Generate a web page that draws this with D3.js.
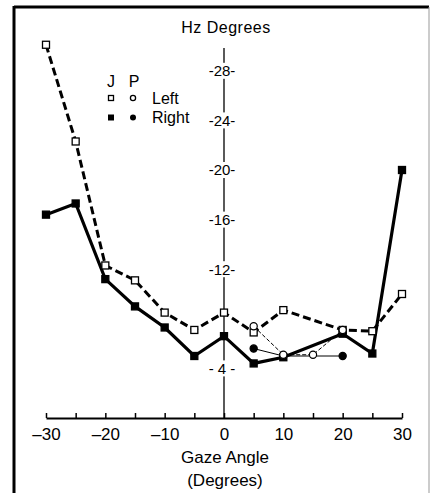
<!DOCTYPE html>
<html>
<head>
<meta charset="utf-8">
<script src="https://cdn.jsdelivr.net/npm/d3@7"></script>
<style>
  body { margin: 0; background: #fff; }
  text { font-family: "Liberation Sans", Arial, sans-serif; fill: #000; }
</style>
</head>
<body>
<script>
// データ
var jAngles = [-30, -25, -20, -15, -10, -5, 0, 5, 10, 20, 25, 30];
var jLeft   = [30.1, 22.3, 12.3, 11.1, 8.5, 7.1, 8.5, 6.9, 8.7, 7.1, 7.0, 10.0];
var jRight  = [16.4, 17.3, 11.2, 9.0, 7.3, 5.0, 6.6, 4.4, 4.9, 6.8, 5.2, 20.0];
var pLeftAngles  = [5, 10, 15, 20];
var pLeft        = [7.4, 5.1, 5.1, 7.1];
var pRightAngles = [5, 10, 20];
var pRight       = [5.6, 5.0, 5.0];
var xTicks  = [-30, -25, -20, -15, -10, -5, 0, 5, 10, 15, 20, 25, 30];
var yTicks  = [4, 12, 16, 20, 24, 28];

var width = 430, height = 493;

var svg = d3.select("body").append("svg")
    .attr("width", width)
    .attr("height", height);

// 枠線
svg.append("line").attr("x1", 14).attr("y1", 7).attr("x2", 429).attr("y2", 7)
    .attr("stroke", "#000").attr("stroke-width", 3);
svg.append("line").attr("x1", 14).attr("y1", 6).attr("x2", 14).attr("y2", 493)
    .attr("stroke", "#000").attr("stroke-width", 3);
svg.append("line").attr("x1", 429).attr("y1", 7).attr("x2", 429).attr("y2", 493)
    .attr("stroke", "#999").attr("stroke-width", 1);

// スケール
var xScale = d3.scaleLinear().domain([-30, 30]).range([46, 402]);
var yScale = d3.scaleLinear().domain([0, 28]).range([418, 70.8]);

// X axis
var xAxis = svg.append("g")
    .attr("transform", "translate(0," + yScale(0) + ")")
    .call(d3.axisBottom(xScale)
      .tickValues(xTicks)
      .tickSize(-5)
      .tickSizeOuter(0)
      .tickFormat(function(d) { return d % 10 === 0 ? (d < 0 ? "\u2013" + (-d) : String(d)) : ""; }));
xAxis.select(".domain").attr("stroke-width", 2);
xAxis.selectAll(".tick line").attr("stroke-width", 1.5);
xAxis.selectAll("text")
    .attr("y", 22).attr("dy", 0)
    .style("font-size", "17px")
    .style("font-family", "Liberation Sans, Arial, sans-serif");

// Y axis
svg.append("line")
    .attr("x1", xScale(0)).attr("x2", xScale(0))
    .attr("y1", 48).attr("y2", yScale(0))
    .attr("stroke", "#000").attr("stroke-width", 1.3);

var yLabel = svg.append("g").selectAll("g")
    .data(yTicks).enter().append("g")
    .attr("transform", function(d) { return "translate(" + (xScale(0) - 2) + "," + yScale(d) + ")"; });
yLabel.append("rect")
    .attr("x", -16).attr("y", -8).attr("width", 32).attr("height", 16)
    .attr("fill", "#fff");
yLabel.append("text")
    .attr("text-anchor", "middle")
    .attr("dy", "0.36em")
    .style("font-size", "15px")
    .text(function(d) { return d < 10 ? "- " + d + " -" : "-" + d + "-"; });

// タイトル
svg.append("text")
    .attr("x", 226).attr("y", 33)
    .attr("text-anchor", "middle")
    .style("font-size", "16px")
    .style("letter-spacing", "0.5px")
    .text("Hz Degrees");
svg.append("text")
    .attr("x", 225).attr("y", 463)
    .attr("text-anchor", "middle")
    .style("font-size", "17px")
    .text("Gaze Angle");
svg.append("text")
    .attr("x", 225).attr("y", 486)
    .attr("text-anchor", "middle")
    .style("font-size", "17px")
    .text("(Degrees)");

// Lineの定義
function series(xs, ys) {
  return xs.map(function(x, i) { return { x: x, v: ys[i] }; });
}
var valueline = d3.line()
    .x(function(d) { return xScale(d.x); })
    .y(function(d) { return yScale(d.v); });

var jL = series(jAngles, jLeft), jR = series(jAngles, jRight);
var pL = series(pLeftAngles, pLeft), pR = series(pRightAngles, pRight);

svg.append("path").attr("d", valueline(jL))
    .attr("fill", "none").attr("stroke", "#000").attr("stroke-width", 3)
    .attr("stroke-dasharray", "8,4");
svg.append("path").attr("d", valueline(jR))
    .attr("fill", "none").attr("stroke", "#000").attr("stroke-width", 3.2);
svg.append("path").attr("d", valueline(pL))
    .attr("fill", "none").attr("stroke", "#000").attr("stroke-width", 1)
    .attr("stroke-dasharray", "4,2");
svg.append("path").attr("d", valueline(pR))
    .attr("fill", "none").attr("stroke", "#000").attr("stroke-width", 1);

// マーカー
function squares(data, fill) {
  svg.append("g").selectAll("rect").data(data).enter().append("rect")
    .attr("x", function(d) { return xScale(d.x) - 3.5; })
    .attr("y", function(d) { return yScale(d.v) - 3.5; })
    .attr("width", 7).attr("height", 7)
    .attr("fill", fill).attr("stroke", "#000").attr("stroke-width", 1.3);
}
function circles(data, fill) {
  svg.append("g").selectAll("circle").data(data).enter().append("circle")
    .attr("cx", function(d) { return xScale(d.x); })
    .attr("cy", function(d) { return yScale(d.v); })
    .attr("r", 3.6)
    .attr("fill", fill).attr("stroke", "#000").attr("stroke-width", 1.2);
}
squares(jL, "#fff");
squares(jR, "#000");
circles(pR, "#000");
circles(pL, "#fff");

// 凡例
var legend = svg.append("g");
legend.append("text").attr("x", 111).attr("y", 87).attr("text-anchor", "middle")
    .style("font-size", "16px").text("J");
legend.append("text").attr("x", 134).attr("y", 87).attr("text-anchor", "middle")
    .style("font-size", "16px").text("P");
legend.append("rect").attr("x", 108.5).attr("y", 95.5).attr("width", 5).attr("height", 5)
    .attr("fill", "#fff").attr("stroke", "#000").attr("stroke-width", 1.3);
legend.append("circle").attr("cx", 133).attr("cy", 98).attr("r", 2.6)
    .attr("fill", "#fff").attr("stroke", "#000").attr("stroke-width", 1.3);
legend.append("text").attr("x", 152).attr("y", 104)
    .style("font-size", "16px").text("Left");
legend.append("rect").attr("x", 108).attr("y", 114.5).attr("width", 6).attr("height", 6)
    .attr("fill", "#000");
legend.append("circle").attr("cx", 133).attr("cy", 117.5).attr("r", 3)
    .attr("fill", "#000");
legend.append("text").attr("x", 152).attr("y", 123)
    .style("font-size", "16px").text("Right");
</script>
</body>
</html>
